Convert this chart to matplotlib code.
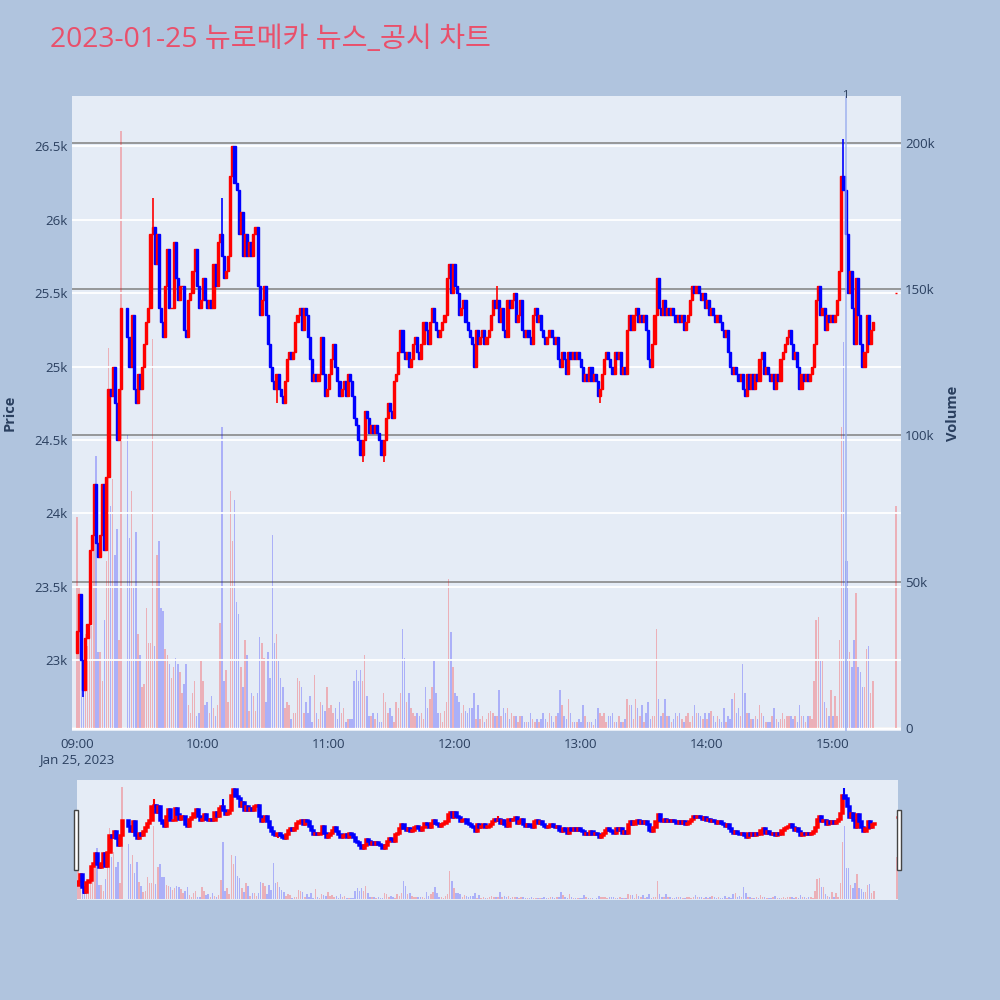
import matplotlib
matplotlib.use("Agg")
import matplotlib.pyplot as plt
from matplotlib.patches import Rectangle

plt.rcParams['font.family'] = ['Open Sans', 'Noto Sans CJK KR', 'DejaVu Sans']

TITLE = "2023-01-25 뉴로메카 뉴스_공시 차트"

# one candle per minute from 09:00; None = no trade that minute
first_open = 23050
close = [
    23200, 23450, 23000, 22800, 23150, 23250, 23750, 23850, 24200, 23800,
    23700, 23850, 24200, 23750, 24250, 24850, 24800, 25000, 24750, 24500,
    24850, 25400, None, None, 25200, 25000, 25350, 24850, 24750, 24950,
    24850, 25000, 25150, 25300, 25400, 25900, 25950, 25700, 25900, 25400,
    25300, 25200, 25550, 25800, 25400, 25400, 25850, 25600, 25450, 25550,
    25550, 25250, 25200, 25450, 25500, 25650, 25800, 25550, 25400, 25450,
    25600, 25450, 25400, 25450, 25400, 25700, 25550, 25850, 25900, 25750,
    25600, 25650, 25750, 26300, 26500, 26250, 26200, 25900, 26050, 25750,
    25900, 25750, 25850, 25750, 25900, 25950, 25550, 25350, 25450, 25550,
    25350, 25150, 25000, 24900, 24850, 24950, 24850, 24800, 24750, 24900,
    25050, 25100, 25050, 25100, 25300, 25350, 25400, 25250, 25400, 25350,
    25200, 25050, 24900, 24950, 24900, 24950, 25200, 24950, 24800, 24850,
    24950, 25050, 25150, 25000, 24900, 24800, 24850, 24900, 24800, 24950,
    24900, 24800, 24650, 24600, 24500, 24400, 24500, 24700, 24650, 24550,
    24600, 24550, 24600, 24550, 24500, 24400, 24500, 24650, 24750, 24700,
    24650, 24900, 24950, 25100, 25250, 25100, 25050, 25100, 25000, 25050,
    25150, 25200, 25100, 25050, 25150, 25300, 25250, 25150, 25300, 25400,
    25300, 25250, 25200, 25250, 25300, 25350, 25600, 25700, 25500, 25700,
    25550, 25500, 25350, 25400, 25450, 25300, 25250, 25200, 25150, 25000,
    25250, 25150, 25200, 25250, 25150, 25200, 25250, 25350, 25450, 25400,
    25450, 25300, 25400, 25250, 25200, 25450, 25400, 25450, 25500, 25300,
    25350, 25450, 25250, 25200, 25250, 25200, 25150, 25350, 25400, 25300,
    25350, 25250, 25200, 25150, 25200, 25250, 25200, 25150, 25200, 25050,
    25000, 25100, 25050, 24950, 25100, 25050, 25100, 25050, 25100, 25050,
    25000, 24900, 24950, 24900, 25000, 24900, 24950, 24900, 24800, 24850,
    24950, 25050, 25100, 25050, 25000, 24950, 25100, 25050, 25100, 24950,
    25000, 24950, 25250, 25350, 25250, 25350, 25400, 25300, 25350, 25300,
    25350, 25250, 25050, 25000, 25150, 25350, 25600, 25400, 25350, 25450,
    25350, 25400, 25350, 25400, 25350, 25300, 25350, 25300, 25350, 25250,
    25300, 25350, 25450, 25550, 25500, 25550, 25500, 25450, 25500, 25400,
    25450, 25350, 25400, 25350, 25300, 25350, 25300, 25250, 25200, 25250,
    25100, 25000, 24950, 25000, 24950, 24900, 24950, 24850, 24800, 24950,
    24850, 24950, 24850, 24950, 24900, 25050, 25100, 24950, 25000, 24950,
    24900, 24950, 24850, 24950, 24900, 25050, 25100, 25150, 25200, 25250,
    25150, 25050, 25100, 25000, 24850, 24950, 24900, 24950, 24900, 24950,
    25000, 25150, 25450, 25550, 25350, 25400, 25250, 25350, 25300, 25350,
    25300, 25350, 25450, 25650, 26300, 26200, 25900, 25500, 25650, 25400,
    25150, 25600, 25350, 25150, 25000, 25100, 25350, 25150, 25250, 25300,
]

# volume per minute, thousands of shares
volume_k = [
    72, 48, 37, 22, 32, 28, 37, 35, 69, 93,
    26, 26, 16, 37, 57, 130, 76, 85, 59, 68,
    30, 204, None, None, 100, 65, 81, 48, 67, 32,
    25, 14, 15, 41, 29, 29, 133, 28, 59, 64,
    41, 40, 27, 25, 22, 17, 21, 24, 22, 19,
    12, 15, 22, 8, 5, 12, 16, 4, 5, 23,
    16, 8, 9, 5, 11, 7, 4, 8, 36, 103,
    16, 20, 9, 81, 64, 78, 43, 39, 21, 14,
    30, 25, 6, 12, 11, 6, 12, 31, 29, 24,
    9, 26, 17, 66, 29, 32, 23, 17, 14, 7,
    9, 8, 3, 5, 5, 17, 16, 14, 5, 9,
    5, 11, 2, 18, 5, 3, 9, 8, 6, 14,
    7, 8, 5, 7, 3, 9, 5, 7, 2, 3,
    3, 3, 16, 20, 16, 20, 16, 25, 11, 4,
    4, 5, 3, 5, 2, 2, 12, 9, 5, 7,
    4, 2, 9, 7, 12, 34, 24, 9, 12, 7,
    5, 4, 5, 4, 5, 3, 14, 7, 10, 14,
    23, 12, 5, 5, 2, 6, 9, 51, 33, 21,
    12, 11, 9, 5, 8, 6, 5, 7, 7, 12,
    3, 8, 3, 4, 2, 3, 5, 6, 5, 4,
    4, 13, 4, 7, 5, 7, 3, 5, 4, 4,
    2, 4, 4, 2, 2, 2, 5, 3, 2, 3,
    2, 3, 5, 3, 2, 5, 4, 2, 4, 5,
    13, 8, 4, 3, 10, 5, 2, 2, 2, 3,
    2, 8, 4, 2, 2, 2, 1, 3, 7, 5,
    4, 5, 2, 4, 4, 5, 2, 2, 4, 2,
    2, 3, 10, 8, 8, 3, 10, 7, 4, 8,
    2, 5, 9, 3, 4, 4, 34, 10, 4, 5,
    10, 4, 4, 2, 3, 5, 4, 5, 3, 2,
    4, 5, 2, 4, 8, 5, 5, 4, 3, 5,
    3, 5, 6, 4, 2, 4, 3, 2, 7, 2,
    4, 3, 10, 12, 5, 7, 4, 22, 12, 5,
    5, 3, 3, 4, 3, 8, 5, 4, 2, 2,
    2, 4, 7, 3, 2, 3, 5, 3, 4, 4,
    4, 3, 4, 2, 8, 4, 4, 2, 4, 4,
    3, 16, 37, 38, 23, 23, 9, 7, 4, 13,
    4, 11, 4, 30, 103, 132, 57, 57, 26, 21,
    30, 46, 21, 19, 14, 14, 27, 28, 12, 16,
]

# wick extremes that go past the body
wick_minutes = [1, 3, 8, 36, 69, 95, 136, 146, 200, 249, 365]
wick_prices = [23450, 22750, 24200, 26150, 26150, 24750, 24350, 24350, 25550, 24750, 26550]

# 15:30 closing auction
auction_minute = 390
auction_price = 25500
auction_volume_k = 76

news_minute = 366
news_label = "1"

tick_minutes = [0, 60, 120, 180, 240, 300, 360]
tick_labels = ["09:00\nJan 25, 2023", "10:00", "11:00", "12:00", "13:00", "14:00", "15:00"]
price_ticks = [23000, 23500, 24000, 24500, 25000, 25500, 26000, 26500]
price_labels = ["23k", "23.5k", "24k", "24.5k", "25k", "25.5k", "26k", "26.5k"]
volume_ticks = [0, 50000, 100000, 150000, 200000]
volume_labels = ["0", "50k", "100k", "150k", "200k"]

UP = "#ff0000"
DOWN = "#0000ff"
UP_VOL = (1.0, 0.0, 0.0, 0.25)
DOWN_VOL = (0.0, 0.0, 1.0, 0.25)
TEXT = "#2a3f5f"
PLOT_BG = "#e5ecf6"

# build candles
wick = dict(zip(wick_minutes, wick_prices))
xs, opens, closes, highs, lows, vols = [], [], [], [], [], []
prev = first_open
for m, (c, v) in enumerate(zip(close, volume_k)):
    if c is None:
        continue
    o = prev
    hi, lo = max(o, c), min(o, c)
    if m in wick:
        hi, lo = max(hi, wick[m]), min(lo, wick[m])
    xs.append(m); opens.append(o); closes.append(c)
    highs.append(hi); lows.append(lo); vols.append(v * 1000)
    prev = c
xs.append(auction_minute); opens.append(auction_price); closes.append(auction_price)
highs.append(auction_price); lows.append(auction_price); vols.append(auction_volume_k * 1000)

up = [c >= o for o, c in zip(opens, closes)]
body_col = [UP if u else DOWN for u in up]
vol_col = [UP_VOL if u else DOWN_VOL for u in up]
body_bottom = [min(o, c) for o, c in zip(opens, closes)]
body_h = [abs(c - o) for o, c in zip(opens, closes)]


def draw(axv, axp, lw_body, lw_wick, vol_width):
    axv.bar(xs, vols, width=vol_width, color=vol_col, linewidth=0, zorder=2)
    axp.vlines(xs, lows, highs, colors=body_col, linewidth=lw_wick, zorder=3)
    axp.bar(xs, body_h, bottom=body_bottom, width=1.0, color=body_col,
            edgecolor=body_col, linewidth=lw_body, zorder=4)


fig = plt.figure(figsize=(10, 10), dpi=100, facecolor="#b0c4de")
fig.text(0.05, 0.96, TITLE, color="#e9506b", fontsize=20.3, ha="left", va="center")

# main chart: volume axes underneath, price axes on top
axv = fig.add_axes([0.072, 0.269, 0.829, 0.635])
axv.set_facecolor(PLOT_BG)
axp = axv.twinx()
axp.patch.set_visible(False)

draw(axv, axp, 1.0, 1.2, 0.7)

axv.set_xlim(-2.4, 392.4)
axv.set_ylim(-1000, 216000)
axp.set_ylim(22518, 26842)

axv.set_yticks(volume_ticks)
axv.set_yticklabels(volume_labels)
axv.yaxis.tick_right()
axv.grid(axis="y", color="#808080", linewidth=1.1, zorder=1)
axv.set_axisbelow(True)
axv.axhline(0, color="white", linewidth=2, zorder=1.5)

axp.set_yticks(price_ticks)
axp.set_yticklabels(price_labels)
axp.yaxis.tick_left()
axp.grid(axis="y", color="white", linewidth=1.3)
axp.set_axisbelow(True)

axv.set_xticks(tick_minutes)
axv.set_xticklabels(tick_labels, linespacing=1.2)

for a in (axv, axp):
    for s in a.spines.values():
        s.set_visible(False)
    a.tick_params(length=0, labelsize=9.5, colors=TEXT)
axv.tick_params(axis="y", pad=3)
axp.tick_params(axis="y", pad=3)
axv.tick_params(axis="x", pad=5)

axp.axvline(news_minute, color="#94a9ee", linewidth=1.2, alpha=0.8, zorder=5)
axp.text(news_minute, 26842, news_label, ha="center", va="center",
         fontsize=8, color=TEXT, zorder=6)

fig.text(0.010, 0.587, "Price", rotation=90, ha="center", va="center",
         fontsize=10.5, fontweight="bold", color=TEXT)
fig.text(0.953, 0.587, "Volume", rotation=90, ha="center", va="center",
         fontsize=10.5, fontweight="bold", color=TEXT)

# range slider
sv = fig.add_axes([0.077, 0.100, 0.821, 0.120])
sv.set_facecolor(PLOT_BG)
sp = sv.twinx()
sp.patch.set_visible(False)
draw(sv, sp, 1.8, 1.5, 0.7)
sv.set_xlim(-0.5, 390.5)
sv.set_ylim(-1000, 216000)
sp.set_ylim(22518, 26842)
for a in (sv, sp):
    a.set_xticks([])
    a.set_yticks([])
    for s in a.spines.values():
        s.set_visible(False)

for hx in (0.0735, 0.8965):
    fig.patches.append(Rectangle((hx, 0.130), 0.004, 0.060, transform=fig.transFigure,
                                 facecolor="white", edgecolor="#444444", linewidth=1))

fig.savefig("out.png", dpi=100, facecolor=fig.get_facecolor())
